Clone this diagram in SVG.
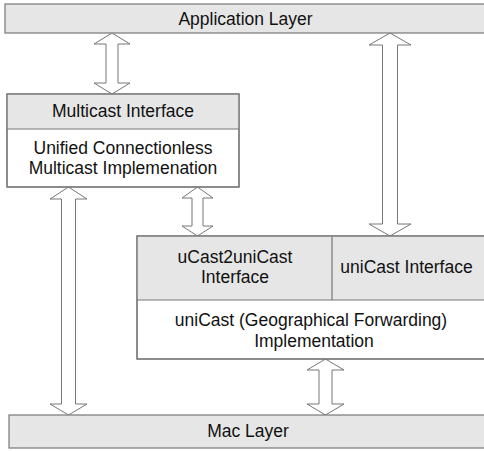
<svg xmlns="http://www.w3.org/2000/svg" width="484" height="451" viewBox="0 0 484 451">
  <style>
    .box { stroke: #777; stroke-width: 1.2; }
    .hdr { fill: #e6e6e6; }
    .body { fill: #ffffff; }
    .div { stroke: #777; stroke-width: 1.2; fill: none; }
    .lbl { font-family: "Liberation Sans", Arial, sans-serif; font-size: 17.5px; fill: #111; text-anchor: middle; }
    .arrow { fill: #ffffff; stroke: #777; stroke-width: 1; stroke-linejoin: miter; }
  </style>

  <rect x="0" y="0" width="484" height="451" fill="#ffffff"/>

  <!-- connectors: hollow two-headed arrows -->
  <g id="connectors">
    <polygon id="app-multicast" class="arrow" points="112,33 130,44 118,44 118,83 130,83 112,94 94,83 106,83 106,44 94,44"/>
    <polygon id="app-unicast" class="arrow" points="390,33 411,45 397.5,45 397.5,224 411,224 390,236 369,224 382.5,224 382.5,45 369,45"/>
    <polygon id="multicast-ucast2unicast" class="arrow" points="197.5,187 213,198 203,198 203,226 213,226 197.5,236 182,226 192,226 192,198 182,198"/>
    <polygon id="multicast-mac" class="arrow" points="68.5,187 87,199 75.5,199 75.5,404 87,404 68.5,415 50,404 61.5,404 61.5,199 50,199"/>
    <polygon id="unicast-mac" class="arrow" points="325.5,359 344,370 332,370 332,404 344,404 325.5,415 307,404 319,404 319,370 307,370"/>
  </g>

  <!-- Application Layer -->
  <g id="application-layer">
    <rect class="box hdr" x="5" y="4" width="490" height="29"/>
    <text class="lbl" x="245.5" y="25">Application Layer</text>
  </g>

  <!-- Multicast block -->
  <g id="multicast">
    <rect class="box body" x="7" y="94" width="232" height="93"/>
    <rect class="hdr" x="7.6" y="94.6" width="230.8" height="34.4"/>
    <line class="div" x1="7" y1="129" x2="239" y2="129"/>
    <rect class="box" x="7" y="94" width="232" height="93" fill="none"/>
    <text class="lbl" x="123" y="117">Multicast Interface</text>
    <text class="lbl" x="123" y="154">Unified Connectionless</text>
    <text class="lbl" x="123" y="174">Multicast Implemenation</text>
  </g>

  <!-- uniCast block -->
  <g id="unicast">
    <rect class="box body" x="137" y="236" width="360" height="123"/>
    <rect class="hdr" x="137.6" y="236.6" width="360" height="63.4"/>
    <line class="div" x1="137" y1="300" x2="497" y2="300"/>
    <line class="div" x1="332" y1="236" x2="332" y2="300"/>
    <rect class="box" x="137" y="236" width="360" height="123" fill="none"/>
    <text class="lbl" x="235" y="263">uCast2uniCast</text>
    <text class="lbl" x="235" y="283">Interface</text>
    <text class="lbl" x="406.5" y="273">uniCast Interface</text>
    <text class="lbl" x="311" y="326">uniCast (Geographical Forwarding)</text>
    <text class="lbl" x="314" y="347">Implementation</text>
  </g>

  <!-- Mac Layer -->
  <g id="mac-layer">
    <rect class="box hdr" x="9" y="415" width="490" height="33"/>
    <text class="lbl" x="248" y="437">Mac Layer</text>
  </g>
</svg>
